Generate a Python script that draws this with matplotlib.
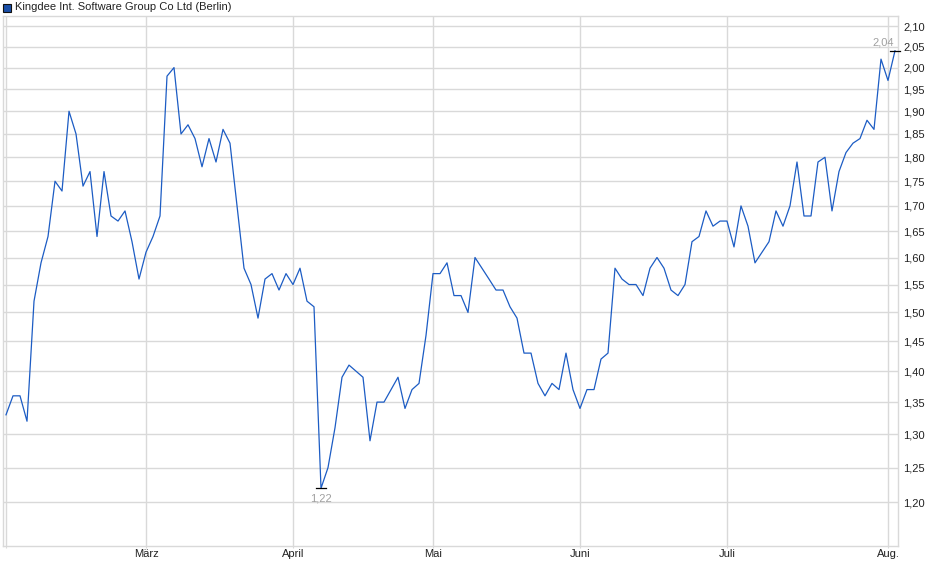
import numpy as np
import pandas as pd
import matplotlib
matplotlib.use("Agg")
import matplotlib.pyplot as plt
from matplotlib.ticker import FixedLocator, NullLocator, FuncFormatter
from matplotlib.patches import Rectangle

plt.rcParams['font.family'] = ['Liberation Sans', 'DejaVu Sans']

title = "Kingdee Int. Software Group Co Ltd (Berlin)"

# Handelstage Berlin, 03.02.2025 - 04.08.2025
holidays = ["2025-04-18", "2025-04-21", "2025-05-01"]
days = pd.bdate_range("2025-02-03", "2025-08-04")
days = days[~days.isin(pd.to_datetime(holidays))]

prices = [
    1.33, 1.36, 1.36, 1.32, 1.52, 1.59, 1.64, 1.75, 1.73, 1.90,
    1.85, 1.74, 1.77, 1.64, 1.77, 1.68, 1.67, 1.69, 1.63, 1.56,
    1.61, 1.64, 1.68, 1.98, 2.00, 1.85, 1.87, 1.84, 1.78, 1.84,
    1.79, 1.86, 1.83, 1.70, 1.58, 1.55, 1.49, 1.56, 1.57, 1.54,
    1.57, 1.55, 1.58, 1.52, 1.51, 1.22, 1.25, 1.31, 1.39, 1.41,
    1.40, 1.39, 1.29, 1.35, 1.35, 1.37, 1.39, 1.34, 1.37, 1.38,
    1.46, 1.57, 1.57, 1.59, 1.53, 1.53, 1.50, 1.60, 1.58, 1.56,
    1.54, 1.54, 1.51, 1.49, 1.43, 1.43, 1.38, 1.36, 1.38, 1.37,
    1.43, 1.37, 1.34, 1.37, 1.37, 1.42, 1.43, 1.58, 1.56, 1.55,
    1.55, 1.53, 1.58, 1.60, 1.58, 1.54, 1.53, 1.55, 1.63, 1.64,
    1.69, 1.66, 1.67, 1.67, 1.62, 1.70, 1.66, 1.59, 1.61, 1.63,
    1.69, 1.66, 1.70, 1.79, 1.68, 1.68, 1.79, 1.80, 1.69, 1.77,
    1.81, 1.83, 1.84, 1.88, 1.86, 2.02, 1.97, 2.04,
]

month_labels = ["", "März", "April", "Mai", "Juni", "Juli", "Aug."]
y_ticks = [1.20, 1.25, 1.30, 1.35, 1.40, 1.45, 1.50, 1.55, 1.60, 1.65,
           1.70, 1.75, 1.80, 1.85, 1.90, 1.95, 2.00, 2.05, 2.10]

prices = np.array(prices)
x = np.arange(len(prices))

# erster Handelstag je Monat
month_start = [0] + [i for i in range(1, len(days)) if days[i].month != days[i - 1].month]

W, H = 940, 579
fig = plt.figure(figsize=(W / 100, H / 100), dpi=100)
ax = fig.add_axes([3 / W, 1 - 546 / H, 895 / W, 530 / H])

grid_c = "#d9d9d9"
line_c = "#1c5cc4"

ax.plot(x, prices, color=line_c, lw=0.9, zorder=3)

ax.set_yscale("log")
ax.set_ylim(1.14, 2.125)
ax.set_xlim(-0.43, len(prices) - 0.57)

ax.yaxis.set_major_locator(FixedLocator(y_ticks))
ax.yaxis.set_minor_locator(NullLocator())
ax.yaxis.set_major_formatter(FuncFormatter(lambda v, p: f"{v:.2f}".replace(".", ",")))
ax.yaxis.tick_right()
ax.tick_params(axis="y", length=0, pad=4, labelsize=8, labelcolor="#222222")

ax.xaxis.set_major_locator(FixedLocator(month_start))
ax.xaxis.set_minor_locator(NullLocator())
ax.set_xticklabels(month_labels)
ax.tick_params(axis="x", length=1.5, color=grid_c, pad=0.5, labelsize=8, labelcolor="#222222")

ax.grid(True, color=grid_c, lw=1.0, zorder=0)
for s in ax.spines.values():
    s.set_color(grid_c)
    s.set_linewidth(1.0)

# Tief und Hoch markieren
i_min, i_max = int(np.argmin(prices)), int(np.argmax(prices))
for i in (i_min, i_max):
    ax.plot([i - 0.65, i + 0.65], [prices[i], prices[i]], color="black", lw=0.9, zorder=4,
            clip_on=False)
ax.annotate(f"{prices[i_min]:.2f}".replace(".", ","), (i_min, prices[i_min]),
            xytext=(0, -4), textcoords="offset points", ha="center", va="top",
            fontsize=8, color="#a0a0a0")
ax.annotate(f"{prices[i_max]:.2f}".replace(".", ","), (i_max, prices[i_max]),
            xytext=(-1, 2), textcoords="offset points", ha="right", va="bottom",
            fontsize=8, color="#a0a0a0")

# Legende oben links
fig.patches.append(Rectangle((3 / W, 1 - 12 / H), 8 / W, 8 / H, transform=fig.transFigure,
                             facecolor="#1a4fa8", edgecolor="#111111", lw=0.8))
fig.text(15 / W, 1 - 7.5 / H, title, fontsize=8, color="#222222", va="center", ha="left")

fig.savefig("out.png", dpi=100)
